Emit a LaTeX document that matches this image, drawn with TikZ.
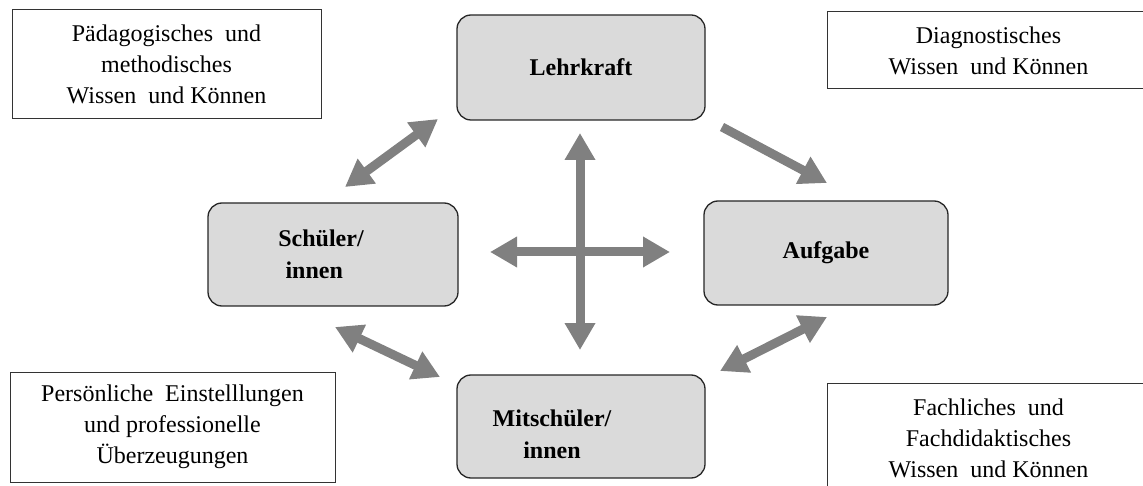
\documentclass[tikz,border=0pt]{standalone}
\usepackage{fontspec}
\setmainfont{Liberation Serif}
\usetikzlibrary{arrows.meta}
\definecolor{arrowgray}{RGB}{128,128,128}
\definecolor{boxgray}{RGB}{218,218,218}
\begin{document}
\begin{tikzpicture}[x=1pt,y=-1pt,
  actor/.style={draw=black!85, line width=1.3pt, rounded corners=14pt, fill=boxgray, inner sep=0pt},
  actortext/.style={font=\bfseries\fontsize{24}{32}\selectfont, align=center, inner sep=0pt},
  info/.style={draw=black!80, line width=1pt, fill=white, font=\fontsize{24}{31}\selectfont, align=center, inner sep=0pt},
  link/.style={draw=arrowgray, line width=9pt},
  both/.style={link, {Triangle[width=29pt,length=27pt]}-{Triangle[width=29pt,length=27pt]}},
  one/.style={link, -{Triangle[width=29pt,length=27pt]}}
]
\useasboundingbox (0,0) rectangle (1143,486);
% main boxes
\node[actor, actortext, minimum width=248pt, minimum height=105pt] (lehr) at (581,67.5) {Lehrkraft};
\node[actor, minimum width=250pt, minimum height=103pt] (sch) at (333,254.5) {};
\node[actortext, align=left] (schtxt) at (321,254) {Schüler/\\\hspace*{0.3em}innen};
\node[actor, actortext, minimum width=244pt, minimum height=104pt] (auf) at (826,253) {Aufgabe};
\node[actor, minimum width=248pt, minimum height=103pt] (mit) at (581,426.5) {};
\node[actortext] (mittxt) at (552,434) {Mitschüler/\\innen};
% info boxes
\node[info, minimum width=309pt, minimum height=109pt] (ped) at (166.5,64.5) {Pädagogisches~ und\\methodisches\\Wissen~ und Können};
\node[info, minimum width=323pt, minimum height=77pt] (dia) at (988.5,50.5) {Diagnostisches\\Wissen~ und Können};
\node[info, minimum width=325pt, minimum height=110pt] (pers) at (172.5,427) {Persönliche~ Einstelllungen\\und professionelle\\Überzeugungen};
\node[info, minimum width=323pt, minimum height=110pt] (fach) at (988.5,438) {Fachliches~ und\\Fachdidaktisches\\Wissen~ und Können};
% arrow end points
\coordinate (ls1) at (345,187);
\coordinate (ls2) at (438,119);
\coordinate (la1) at (722,127);
\coordinate (la2) at (827,183);
\coordinate (vt) at (580,133);
\coordinate (vb) at (580,350);
\coordinate (hl) at (490,252);
\coordinate (hr) at (670,252);
\coordinate (sm1) at (335,327);
\coordinate (sm2) at (440,377);
\coordinate (ma1) at (720,371);
\coordinate (ma2) at (827,317);
% arrows
\draw[both] (ls1) -- (ls2);
\draw[one] (la1) -- (la2);
\draw[both] (vt) -- (vb);
\draw[both] (hl) -- (hr);
\draw[both] (sm1) -- (sm2);
\draw[both] (ma1) -- (ma2);
\end{tikzpicture}
\end{document}
